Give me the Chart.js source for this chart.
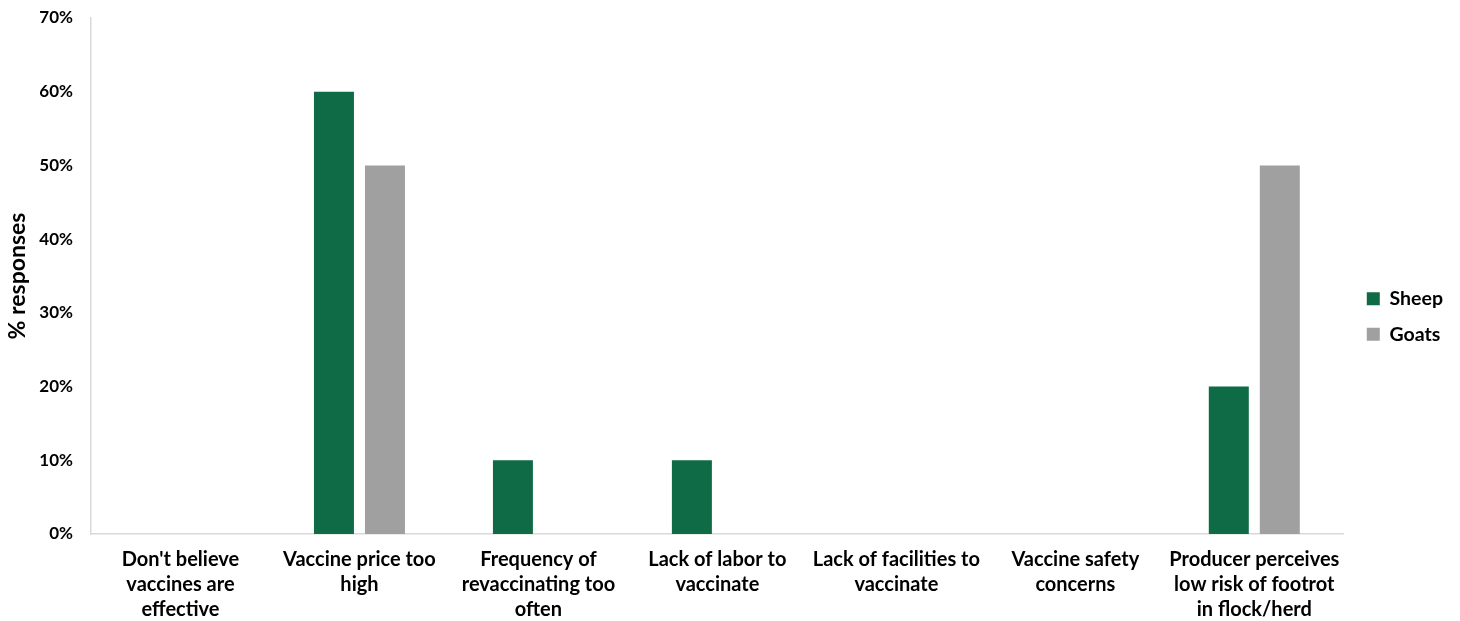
<!DOCTYPE html>
<html><head><meta charset="utf-8">
<script src="https://cdn.jsdelivr.net/npm/chart.js@4"></script>
<style>html,body{margin:0;padding:0;background:#fff}#wrap{width:1460px;height:621px}</style>
</head><body><div id="wrap"><canvas id="c" width="1460" height="621"></canvas></div>
<script>
const categories = [
  ["Don't believe","vaccines are","effective"],
  ["Vaccine price too","high"],
  ["Frequency of","revaccinating too","often"],
  ["Lack of labor to","vaccinate"],
  ["Lack of facilities to","vaccinate"],
  ["Vaccine safety","concerns"],
  ["Producer perceives","low risk of footrot","in flock/herd"]
];
const sheep = [0, 60, 10, 10, 0, 0, 20];
const goats = [0, 50, 0, 0, 0, 0, 50];
const yTicks = [0,10,20,30,40,50,60,70];

const FONT = "Lato, 'Open Sans', sans-serif";
const legendShift = {
  id:'legendShift',
  afterLayout(chart){
    const l = chart.legend;
    l.top -= 10; l.bottom -= 10;
    l.left += 7; l.right += 7;
  }
};
new Chart(document.getElementById('c'), {
  type: 'bar',
  data: {
    labels: categories,
    datasets: [
      {label:'Sheep', data: sheep, backgroundColor:'#0E6B45', categoryPercentage:0.57, barPercentage:0.784},
      {label:'Goats', data: goats, backgroundColor:'#A0A0A0', categoryPercentage:0.57, barPercentage:0.784}
    ]
  },
  plugins:[legendShift],
  options: {
    responsive:false, animation:false,
    layout:{padding:{left:6, right:14, top:18, bottom:-14}},
    plugins:{
      legend:{position:'right', align:'center',
        labels:{boxWidth:13, boxHeight:13, padding:16, color:'#000',
          font:{family:FONT, size:19.5, weight:'bold'}}},
      tooltip:{enabled:false}
    },
    scales:{
      x:{grid:{display:false, drawTicks:false}, border:{color:'#D9D9D9', width:1.5},
        afterFit: s => { s.paddingLeft = 0; s.paddingRight = 0; },
        ticks:{color:'#000', padding:13, maxRotation:0, autoSkip:false,
          font:{family:FONT, size:20, weight:'bold', lineHeight:1.25}}},
      y:{min:0, max:70, grid:{display:false, drawTicks:false}, border:{color:'#D9D9D9', width:1.5},
        afterBuildTicks: ax => { ax.ticks = yTicks.map(v=>({value:v})); },
        afterFit: s => { s.paddingTop = 0; s.width = 85; },
        ticks:{color:'#000', padding:18, callback:v=>v+'%',
          font:{family:FONT, size:17, weight:'bold'}},
        title:{display:true, text:'% responses', color:'#000', padding:{top:0,bottom:8},
          font:{family:FONT, size:23, weight:'bold', lineHeight:1}}}
    }
  }
});
</script></body></html>
